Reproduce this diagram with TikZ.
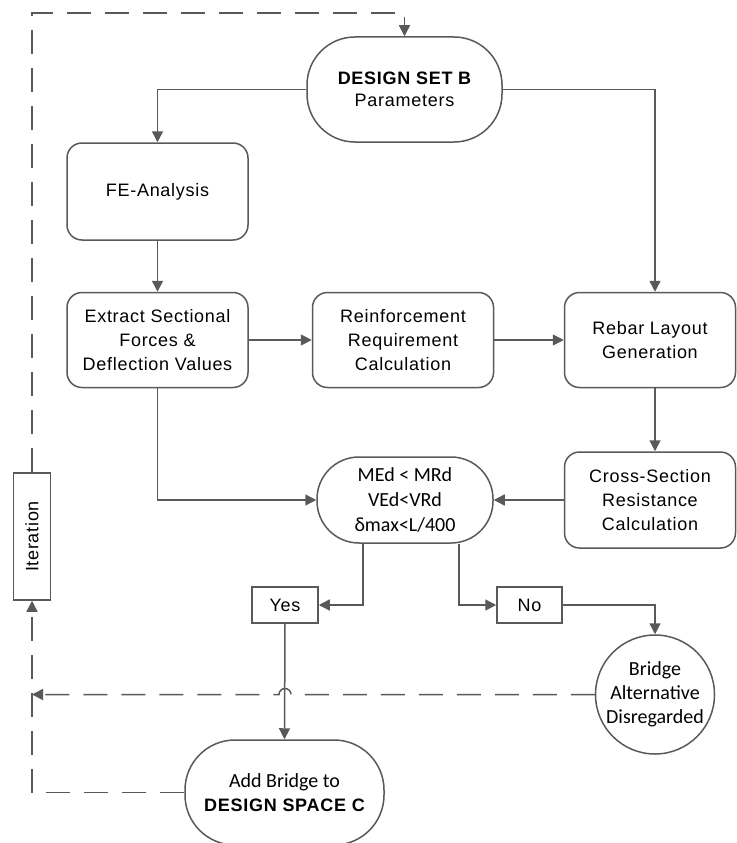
\documentclass[tikz,border=0pt]{standalone}
\usepackage{fontspec}
\setmainfont[LetterSpace=4]{Liberation Sans}
\newfontfamily\calfont{Carlito}
\usetikzlibrary{arrows.meta}
\definecolor{ln}{RGB}{89,89,89}
\begin{document}
\begin{tikzpicture}[x=1pt,y=-1pt,
  box/.style={draw=ln, line width=1.5pt, rounded corners=15pt, align=center, inner sep=0pt,
    font=\fontsize{18}{24}\selectfont},
  term/.style={draw=ln, line width=1.5pt, align=center, inner sep=0pt},
  lbox/.style={draw=ln, line width=1.5pt, inner sep=0pt, font=\fontsize{18}{24}\selectfont},
  conn/.style={draw=ln, line width=1.5pt, -{Triangle[length=11pt,width=11pt]}},
  dconn/.style={conn, dash pattern=on 24pt off 14pt},
]
\useasboundingbox (0,0) rectangle (736,843);
\node[term, minimum width=195pt, minimum height=105pt, rounded corners=48pt,
  font=\fontsize{18}{22}\selectfont] (dsb) at (404.5,89.5) {{\bfseries DESIGN SET B}\\Parameters};
\node[box, minimum width=181pt, minimum height=97pt] (fe) at (157.5,191.5) {FE-Analysis};
\node[box, minimum width=181pt, minimum height=95pt] (ext) at (157.5,340) {Extract Sectional\\Forces \&\\Deflection Values};
\node[box, minimum width=181pt, minimum height=95pt] (rei) at (403,340) {Reinforcement\\Requirement\\Calculation};
\node[box, minimum width=171pt, minimum height=95pt] (reb) at (650,340) {Rebar Layout\\Generation};
\node[box, minimum width=171pt, minimum height=96pt] (cs) at (650,500) {Cross-Section\\Resistance\\Calculation};
\node[term, minimum width=176pt, minimum height=86pt, rounded corners=42pt,
  font=\calfont\fontsize{20}{25}\selectfont] (dec) at (405,500) {MEd < MRd\\VEd<VRd\\δmax<L/400};
\node[lbox, minimum width=66pt, minimum height=36pt] (yes) at (285,605) {Yes};
\node[lbox, minimum width=65pt, minimum height=36pt] (no) at (529.5,605) {No};
\node[term, circle, minimum size=119pt, font=\calfont\fontsize{20}{24}\selectfont] (dis) at (655,694.5) {Bridge\\Alternative\\Disregarded};
\node[term, minimum width=199pt, minimum height=105pt, rounded corners=50pt,
  font=\fontsize{18}{24}\selectfont] (add) at (284.5,792.5) {{\calfont\fontsize{20}{24}\selectfont Add Bridge to}\\{\bfseries DESIGN SPACE C}};
\node[lbox, minimum width=37pt, minimum height=127pt] (it) at (32,536.5) {\rotatebox{90}{Iteration}};
\coordinate (tl) at (32,13);
\coordinate (lb) at (32,694.5);
\coordinate (jr) at (291,694.5);

\draw[conn] (dsb.west) -| (fe.north);
\draw[conn] (dsb.east) -| ([xshift=5pt]reb.north);
\draw[conn] (fe) -- (ext);
\draw[conn] (ext) -- (rei);
\draw[conn] (rei) -- (reb);
\draw[conn] ([xshift=5pt]reb.south) -- ([xshift=5pt]cs.north);
\draw[conn] (cs) -- (dec);
\draw[conn] (ext.south) |- (dec.west);
\draw[conn] ([xshift=-42pt]dec.south) |- (yes.east);
\draw[conn] ([xshift=54pt]dec.south) |- (no.west);
\draw[conn] (no.east) -| (dis.north);
\draw[conn] (yes.south) -- (add.north);

\draw[dconn] (dis.west) -- (jr) arc (0:-180:6) -- (lb);
\draw[dconn] (add.west) -| (it.south);
\draw[dconn] (it.north) -- (tl) -| (dsb.north);
\end{tikzpicture}
\end{document}
